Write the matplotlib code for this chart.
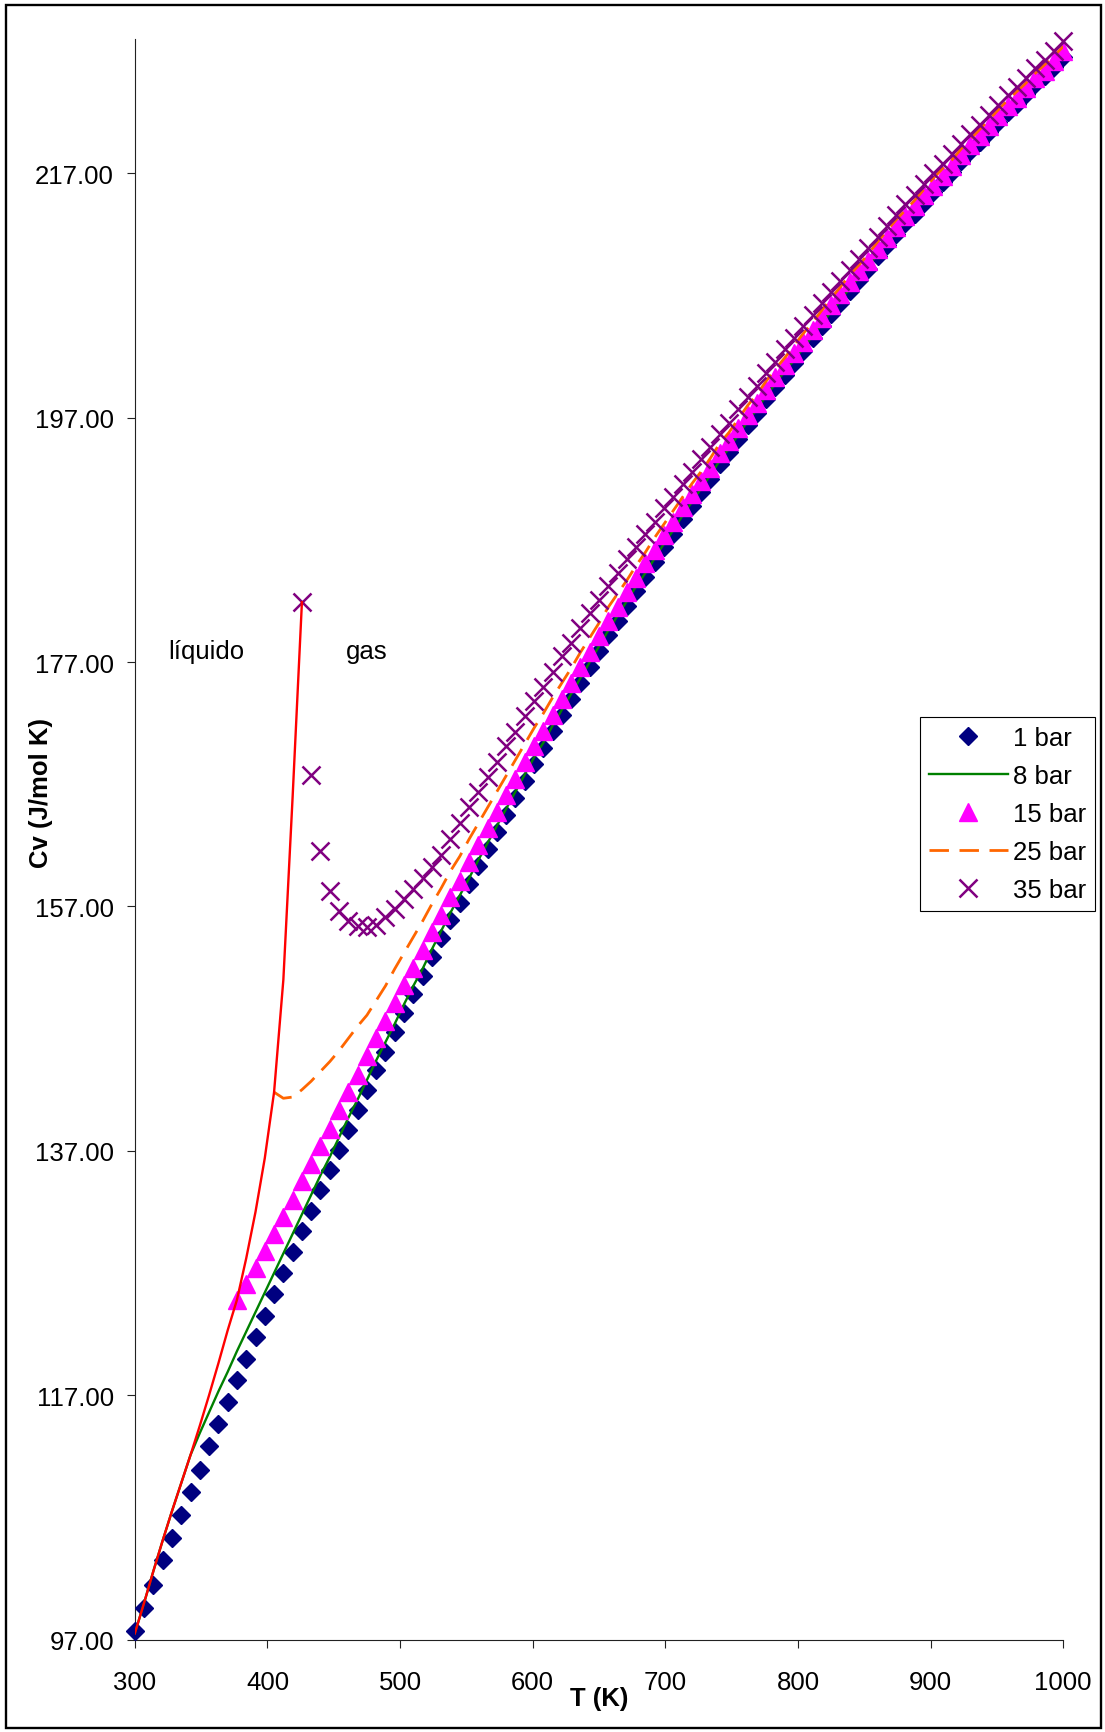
import matplotlib
matplotlib.use('Agg')
import matplotlib.pyplot as plt
from matplotlib.patches import Rectangle
from matplotlib.ticker import FormatStrFormatter

plt.rcParams['font.family'] = ['Liberation Sans', 'DejaVu Sans']

# temperatures (K), one point every 7 K
temps = [300, 307, 314, 321, 328, 335, 342, 349, 356, 363, 370, 377, 384, 391,
         398, 405, 412, 419, 426, 433, 440, 447, 454, 461, 468, 475, 482, 489,
         496, 503, 510, 517, 524, 531, 538, 545, 552, 559, 566, 573, 580, 587,
         594, 601, 608, 615, 622, 629, 636, 643, 650, 657, 664, 671, 678, 685,
         692, 699, 706, 713, 720, 727, 734, 741, 748, 755, 762, 769, 776, 783,
         790, 797, 804, 811, 818, 825, 832, 839, 846, 853, 860, 867, 874, 881,
         888, 895, 902, 909, 916, 923, 930, 937, 944, 951, 958, 965, 972, 979,
         986, 993, 1000]

# Cv (J/mol K)
cv_1bar = [97.7, 99.6, 101.5, 103.5, 105.3, 107.2, 109.1, 110.9, 112.8, 114.6,
           116.4, 118.2, 120.0, 121.8, 123.5, 125.3, 127.0, 128.7, 130.4, 132.1,
           133.8, 135.4, 137.1, 138.7, 140.3, 142.0, 143.6, 145.1, 146.7, 148.3,
           149.8, 151.3, 152.9, 154.4, 155.9, 157.3, 158.8, 160.3, 161.7, 163.1,
           164.5, 165.9, 167.3, 168.7, 170.0, 171.4, 172.7, 174.0, 175.3, 176.6,
           177.9, 179.2, 180.4, 181.6, 182.8, 184.0, 185.2, 186.4, 187.5, 188.7,
           189.8, 190.9, 192.0, 193.2, 194.2, 195.3, 196.4, 197.4, 198.5, 199.5,
           200.5, 201.5, 202.5, 203.5, 204.5, 205.5, 206.4, 207.4, 208.3, 209.2,
           210.2, 211.1, 212.0, 212.9, 213.7, 214.6, 215.5, 216.3, 217.1, 218.0,
           218.8, 219.6, 220.4, 221.2, 222.0, 222.7, 223.5, 224.3, 225.0, 225.7,
           226.5]

cv_8bar = [97.5, 100.0, 102.6, 105.1, 107.5, 109.8, 112.1,
           113.9, 115.6, 117.3, 118.9, 120.6, 122.2, 123.8, 125.4, 127.0, 128.6,
           130.2, 131.8, 133.4, 135.0, 136.5, 138.1, 139.7, 141.2, 142.8, 144.4,
           145.9, 147.4, 149.0, 150.5, 151.9, 153.5, 155.0, 156.5, 157.9, 159.3,
           160.8, 162.2, 163.6, 165.0, 166.4, 167.8, 169.2, 170.4, 171.8, 173.1,
           174.4, 175.7, 177.0, 178.3, 179.6, 180.8, 182.0, 183.2, 184.3, 185.5,
           186.7, 187.8, 189.0, 190.1, 191.2, 192.3, 193.5, 194.5, 195.6, 196.7,
           197.7, 198.8, 199.8, 200.8, 201.7, 202.7, 203.7, 204.7, 205.7, 206.6,
           207.6, 208.5, 209.4, 210.4, 211.3, 212.2, 213.1, 213.9, 214.8, 215.7,
           216.5, 217.3, 218.2, 219.0, 219.8, 220.6, 221.4, 222.2, 222.9, 223.6,
           224.4, 225.2, 225.8, 226.6]

# 15 bar starts at 377 K
cv_15bar = [124.8, 126.1, 127.4, 128.8, 130.2, 131.6, 133.0, 134.5, 135.9, 137.4,
            138.8, 140.3, 141.8, 143.2, 144.8, 146.2, 147.6, 149.1, 150.6, 152.0,
            153.4, 154.9, 156.3, 157.8, 159.1, 160.6, 162.0, 163.4, 164.7, 166.1,
            167.4, 168.8, 170.1, 171.4, 172.7, 174.0, 175.3, 176.6, 177.8, 179.1,
            180.4, 181.5, 182.7, 183.9, 185.1, 186.2, 187.4, 188.5, 189.7, 190.8,
            191.8, 192.9, 194.1, 195.1, 196.2, 197.2, 198.2, 199.3, 200.3, 201.3,
            202.3, 203.2, 204.2, 205.2, 206.2, 207.1, 208.1, 209.0, 209.8, 210.8,
            211.7, 212.6, 213.5, 214.3, 215.2, 216.0, 216.8, 217.6, 218.5, 219.3,
            220.1, 220.9, 221.7, 222.5, 223.2, 224.0, 224.8, 225.4, 226.2, 227.0]

# 25 bar starts at 405 K
cv_25bar = [141.8, 141.3, 141.4, 142.0, 142.7, 143.5, 144.3, 145.2, 146.2, 147.2,
            148.1, 149.3, 150.5, 151.9, 153.2, 154.5, 155.8, 157.2, 158.5, 159.9,
            161.1, 162.5, 163.8, 165.1, 166.4, 167.7, 169.0, 170.3, 171.6, 172.8,
            174.1, 175.3, 176.5, 177.8, 179.0, 180.2, 181.5, 182.6, 183.7, 184.9,
            186.0, 187.2, 188.3, 189.4, 190.5, 191.6, 192.6, 193.7, 194.9, 195.8,
            196.9, 198.0, 198.9, 200.0, 201.0, 201.9, 202.9, 203.9, 204.8, 205.8,
            206.8, 207.7, 208.7, 209.5, 210.4, 211.4, 212.3, 213.2, 214.0, 214.8,
            215.7, 216.6, 217.4, 218.1, 219.0, 219.8, 220.6, 221.4, 222.2, 223.0,
            223.7, 224.4, 225.2, 225.9, 226.6, 227.4]

# 35 bar starts at 426 K
cv_35bar = [181.9, 167.8, 161.5, 158.3, 156.6, 155.8, 155.4, 155.3, 155.5, 156.1,
            156.8, 157.6, 158.4, 159.3, 160.2, 161.2, 162.5, 163.8, 165.1, 166.4,
            167.6, 168.8, 170.1, 171.3, 172.6, 173.8, 175.0, 176.2, 177.5, 178.6,
            179.8, 181.0, 182.1, 183.2, 184.3, 185.4, 186.4, 187.5, 188.5, 189.6,
            190.5, 191.6, 192.6, 193.6, 194.6, 195.7, 196.6, 197.7, 198.7, 199.6,
            200.7, 201.6, 202.6, 203.5, 204.5, 205.4, 206.4, 207.3, 208.2, 209.1,
            210.0, 210.9, 211.8, 212.7, 213.6, 214.5, 215.2, 216.1, 217.0, 217.8,
            218.6, 219.4, 220.2, 221.0, 221.8, 222.6, 223.4, 224.1, 224.8, 225.6,
            226.3, 227.0, 227.8]

# liquid branch, 300 to 426 K
cv_liquido = [97.5, 100.0, 102.6, 105.1, 107.5, 109.8, 112.1, 114.5, 117.0, 119.6,
              122.3, 124.8, 128.2, 132.0, 136.4, 141.8, 151.0, 166.0, 181.9]

y_ticks = [97, 117, 137, 157, 177, 197, 217]
x_ticks = [300, 400, 500, 600, 700, 800, 900, 1000]

FS = 18.5

fig = plt.figure(figsize=(11.05, 17.33), dpi=100)
ax = fig.add_axes([0.1220, 0.05337, 0.8402, 0.92354])

def tail(values):
    # the series that start late share the end of the temperature grid
    return temps[len(temps) - len(values):]

ax.plot(temps, cv_1bar, ls='none', marker='D', ms=9, color='#000080',
        label='1 bar', clip_on=False, zorder=3)
ax.plot(temps, cv_8bar, color='#008000', lw=1.7, label='8 bar', zorder=4)
ax.plot(tail(cv_15bar), cv_15bar, ls='none', marker='^', ms=13,
        color='#FF00FF', label='15 bar', clip_on=False, zorder=5)
ax.plot(tail(cv_25bar), cv_25bar, color='#FF6600', lw=2.0,
        ls=(0, (7.0, 3.8)), label='25 bar', zorder=6)
ax.plot(tail(cv_35bar), cv_35bar, ls='none', marker='x', ms=13, mew=1.8,
        color='#800080', label='35 bar', clip_on=False, zorder=7)
ax.plot(temps[:len(cv_liquido)], cv_liquido, color='#FF0000', lw=1.7,
        zorder=8)

ax.text(353.7, 177.9, 'líquido', fontsize=FS, ha='center', va='center')
ax.text(475.2, 177.9, 'gas', fontsize=FS, ha='center', va='center')

ax.set_xlim(300, 1000)
ax.set_ylim(97, 228)
ax.set_xticks(x_ticks)
ax.set_yticks(y_ticks)
ax.yaxis.set_major_formatter(FormatStrFormatter('%.2f'))

for side in ['top', 'right']:
    ax.spines[side].set_visible(False)
for side in ['left', 'bottom']:
    ax.spines[side].set_linewidth(0.8)
    ax.spines[side].set_color('#222222')

ax.tick_params(direction='out', length=5.8, width=0.8, color='#222222',
               labelsize=FS)
ax.tick_params(axis='x', pad=16.4)
ax.tick_params(axis='y', pad=9.2)

ax.set_xlabel('T (K)', fontsize=FS, fontweight='bold')
ax.xaxis.set_label_coords(0.5, -0.0366)
ax.xaxis.label.set_va('center')
ax.set_ylabel('Cv (J/mol K)', fontsize=FS, fontweight='bold')
ax.yaxis.set_label_coords(-0.101, 0.5295)
ax.yaxis.label.set_va('center')

leg = ax.legend(loc='upper left', bbox_to_anchor=(0.8326, 0.5855),
                bbox_transform=fig.transFigure, borderaxespad=0,
                fontsize=FS, frameon=True, fancybox=False, framealpha=1,
                edgecolor='black', borderpad=0.35, labelspacing=0.54,
                handlelength=3.07, handletextpad=0.2, numpoints=1)
leg.get_frame().set_linewidth(0.8)

# black border round the whole picture
fig.patches.append(Rectangle((0.005, 0.0023), 0.9914, 0.9942,
                             transform=fig.transFigure, fill=False,
                             lw=1.7, ec='black'))

fig.savefig('out.png', dpi=100)
